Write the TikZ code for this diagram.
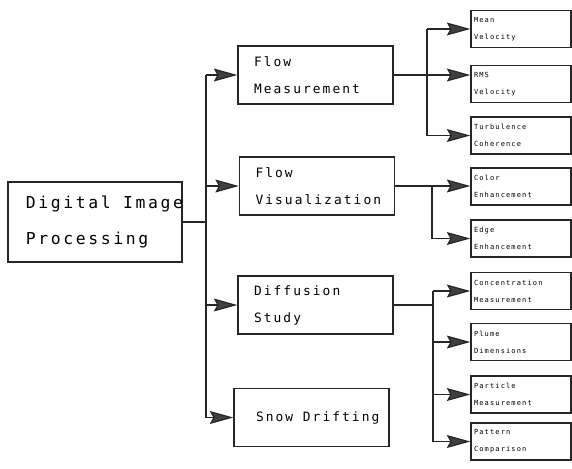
\documentclass[tikz,border=0pt]{standalone}
\usepackage{fontspec}
\usetikzlibrary{arrows.meta}
\newfontfamily\plotfont{DejaVu Sans Mono}[LetterSpace=16]
\newcommand\rootfont{\plotfont\fontsize{14}{30}\selectfont}
\newcommand\midfont{\plotfont\fontsize{11}{23}\selectfont}
\newcommand\leaffont{\plotfont\fontsize{6}{14.5}\selectfont}
\newcommand\gap{\hspace{0.75em}}
\begin{document}
\begin{tikzpicture}[x=0.03cm,y=-0.03cm,
  box/.style={draw=black!85,line width=1.2pt,rectangle,align=left,inner ysep=0pt},
  rootbox/.style={box,minimum height=2.4cm,inner xsep=0.54cm,text width=4.14cm,font=\rootfont},
  midbox/.style={box,minimum height=1.74cm,inner xsep=0.48cm,text width=3.69cm,font=\midfont},
  leafbox/.style={box,minimum height=1.11cm,inner xsep=0.09cm,text width=2.82cm,font=\leaffont},
  line/.style={draw=black!85,line width=1pt},
  arr/.style={line,-{Stealth[length=20pt,width=11pt,inset=3pt,fill=black!75]}}]
\useasboundingbox (0,0) rectangle (572,468);

\node[rootbox] (dip) at (95,222) {\mbox{Digital\gap Image}\\Processing};

\node[midbox] (fm) at (315.5,75) {Flow\\Measurement};
\node[midbox] (fv) at (317,186) {Flow\\\mbox{Visualization}};
\node[midbox] (ds) at (315.5,305) {Diffusion\\Study};
\node[midbox,inner xsep=0.66cm,text width=3.33cm] (sd) at (311.5,417.5) {\mbox{Snow\gap Drifting}};

\node[leafbox] (mv) at (521,29) {Mean\\Velocity};
\node[leafbox] (rms) at (521,84) {RMS\\Velocity};
\node[leafbox] (tc) at (521,135.5) {Turbulence\\Coherence};
\node[leafbox] (ce) at (521,186.5) {Color\\Enhancement};
\node[leafbox] (ee) at (521,238.5) {Edge\\Enhancement};
\node[leafbox] (cm) at (521,291) {Concentration\\Measurement};
\node[leafbox] (pd) at (521,342) {Plume\\Dimensions};
\node[leafbox] (pm) at (521,394.5) {Particle\\Measurement};
\node[leafbox] (pc) at (521,441.5) {Pattern\\Comparison};

% bus lines
\coordinate (b0) at (206,0);
\coordinate (b1) at (427,0);
\coordinate (b2) at (432,0);
\coordinate (b3) at (433,0);

\draw[line] (dip.east) -- (dip.east -| b0);
\draw[line] (b0 |- fm.west) -- (b0 |- sd.west);
\foreach \n in {fm,fv,ds,sd} \draw[arr] (b0 |- \n.west) -- (\n.west);

\draw[line] (b1 |- mv.west) -- (b1 |- tc.west);
\draw[arr] (fm.east) -- (rms.west |- fm.east);
\foreach \n in {mv,tc} \draw[arr] (b1 |- \n.west) -- (\n.west);

\draw[arr] (fv.east) -- (ce.west |- fv.east);
\draw[line] (b2 |- fv.east) -- (b2 |- ee.west);
\draw[arr] (b2 |- ee.west) -- (ee.west);

\draw[line] (ds.east) -- (ds.east -| b3);
\draw[line] (b3 |- cm.west) -- (b3 |- pc.west);
\foreach \n in {cm,pd,pm,pc} \draw[arr] (b3 |- \n.west) -- (\n.west);

\end{tikzpicture}
\end{document}
